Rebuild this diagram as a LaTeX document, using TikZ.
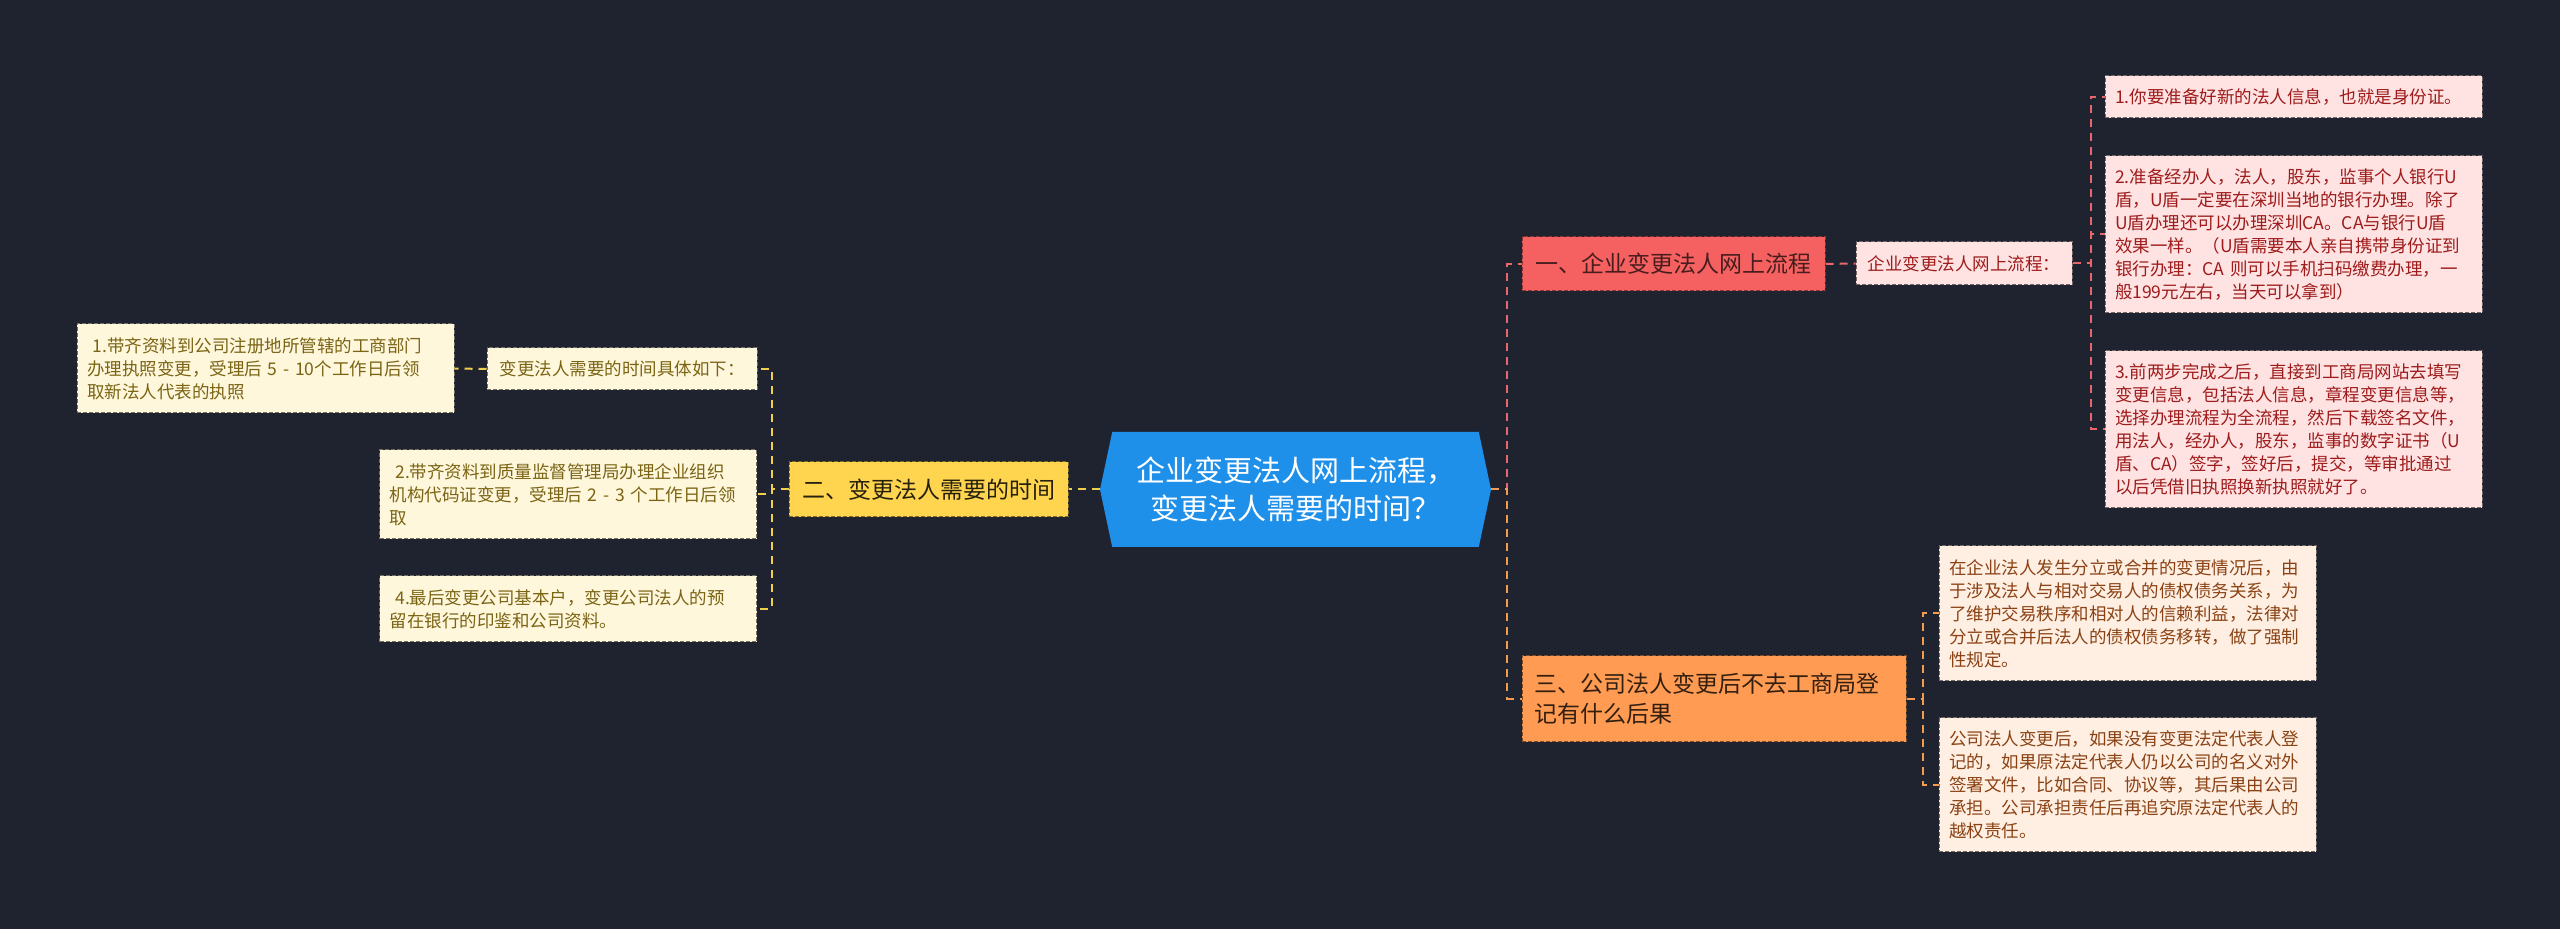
\documentclass[tikz,border=0pt]{standalone}
\usepackage{fontspec}
\setmainfont{Noto Sans CJK SC}
\usepackage{tikz}
\usetikzlibrary{shapes.symbols}

\definecolor{bgnavy}{HTML}{1F2330}
\definecolor{hubblue}{HTML}{1E90EA}
\definecolor{redfill}{HTML}{F56161}
\definecolor{redleaf}{HTML}{FFE3E3}
\definecolor{redtext}{HTML}{9E1B1B}
\definecolor{redline}{HTML}{E8676A}
\definecolor{orangefill}{HTML}{FF9B52}
\definecolor{orangeleaf}{HTML}{FFEEE2}
\definecolor{orangetext}{HTML}{8A4214}
\definecolor{orangeline}{HTML}{F39C50}
\definecolor{yellowfill}{HTML}{FFD54F}
\definecolor{yellowleaf}{HTML}{FFF7DC}
\definecolor{yellowtext}{HTML}{7A6414}
\definecolor{yellowline}{HTML}{F2CF4A}

\begin{document}
\begin{tikzpicture}[x=0.5pt, y=-0.5pt,
    every node/.style={inner ysep=0pt},
    box/.style={draw, dash pattern=on 2pt off 1pt, line width=0.5pt},
    leaf/.style={box, align=left, inner xsep=5pt, text width=178.5pt,
      font=\fontsize{8.75}{11.5}\selectfont},
    sub/.style={box, align=center, inner xsep=0pt,
      font=\fontsize{8.75}{11.5}\selectfont},
    branch/.style={box, inner xsep=6pt, font=\fontsize{11.5}{15}\selectfont},
    link/.style={line width=1pt, dash pattern=on 4pt off 3pt}]
	\fill[bgnavy] (0,0) rectangle (2560,929);
	\useasboundingbox (0,0) rectangle (2560,929);
	% centre
	\node[signal, signal to=east and west, signal pointer angle=156, fill=hubblue,
	  text=white, align=center, minimum width=195.5pt, minimum height=57.5pt,
	  font=\fontsize{14.5}{19}\selectfont] (hub) at (1295.5,489.5)
	  {企业变更法人网上流程，\\变更法人需要的时间？};
	% branch one
	\node[branch, fill=redfill, draw=redfill!55!black, text=redfill!30!black,
	  minimum width=151.5pt, minimum height=27pt] (b1) at (1673.5,264) {一、企业变更法人网上流程};
	\node[sub, fill=redleaf, draw=redleaf!45!black, text=redtext,
	  minimum width=108pt, minimum height=21.5pt] (s1) at (1964,263.5) {企业变更法人网上流程：};
	\node[leaf, fill=redleaf, draw=redleaf!45!black, text=redtext,
	  minimum height=21pt] (r1) at (2293.5,97) {1.你要准备好新的法人信息，也就是身份证。};
	\node[leaf, fill=redleaf, draw=redleaf!45!black, text=redtext,
	  minimum height=78.5pt] (r2) at (2293.5,234.5)
	  {2.准备经办人，法人，股东，监事个人银行U\\盾，U盾一定要在深圳当地的银行办理。除了\\U盾办理还可以办理深圳CA。CA与银行U盾\\效果一样。（U盾需要本人亲自携带身份证到\\银行办理：CA 则可以手机扫码缴费办理，一\\般199元左右，当天可以拿到）};
	\node[leaf, fill=redleaf, draw=redleaf!45!black, text=redtext,
	  minimum height=78.5pt] (r3) at (2293.5,429.5)
	  {3.前两步完成之后，直接到工商局网站去填写\\变更信息，包括法人信息，章程变更信息等，\\选择办理流程为全流程，然后下载签名文件，\\用法人，经办人，股东，监事的数字证书（U\\盾、CA）签字，签好后，提交，等审批通过\\以后凭借旧执照换新执照就好了。};
	% branch two
	\node[branch, fill=yellowfill, draw=yellowfill!50!black, text=yellowfill!15!black,
	  minimum width=139.5pt, minimum height=27.5pt] (b2) at (928.5,489.5) {二、变更法人需要的时间};
	\node[sub, fill=yellowleaf, draw=yellowleaf!45!black, text=yellowtext,
	  minimum width=135pt, minimum height=21pt] (s2) at (622,369) {变更法人需要的时间具体如下：};
	\node[leaf, fill=yellowleaf, draw=yellowleaf!45!black, text=yellowtext,
	  minimum height=44.5pt] (y1) at (265.5,368.5)
	  {\ 1.带齐资料到公司注册地所管辖的工商部门\\办理执照变更，受理后 5 - 10个工作日后领\\取新法人代表的执照};
	\node[leaf, fill=yellowleaf, draw=yellowleaf!45!black, text=yellowtext,
	  minimum height=44.5pt] (y2) at (568,494.5)
	  {\ 2.带齐资料到质量监督管理局办理企业组织\\机构代码证变更，受理后 2 - 3 个工作日后领\\取};
	\node[leaf, fill=yellowleaf, draw=yellowleaf!45!black, text=yellowtext,
	  minimum height=33pt] (y4) at (568,609)
	  {\ 4.最后变更公司基本户，变更公司法人的预\\留在银行的印鉴和公司资料。};
	% branch three
	\node[branch, fill=orangefill, draw=orangefill!50!black, text=orangefill!20!black,
	  align=left, text width=180pt, minimum height=43pt] (b3) at (1714,699)
	  {三、公司法人变更后不去工商局登\\记有什么后果};
	\node[leaf, fill=orangeleaf, draw=orangeleaf!45!black, text=orangetext,
	  minimum height=67.5pt] (o1) at (2127.5,613.5)
	  {在企业法人发生分立或合并的变更情况后，由\\于涉及法人与相对交易人的债权债务关系，为\\了维护交易秩序和相对人的信赖利益，法律对\\分立或合并后法人的债权债务移转，做了强制\\性规定。};
	\node[leaf, fill=orangeleaf, draw=orangeleaf!45!black, text=orangetext,
	  minimum height=67pt] (o2) at (2127.5,785)
	  {公司法人变更后，如果没有变更法定代表人登\\记的，如果原法定代表人仍以公司的名义对外\\签署文件，比如合同、协议等，其后果由公司\\承担。公司承担责任后再追究原法定代表人的\\越权责任。};
	% connectors
	\draw[link, yellowline] (hub.west) -- (b2.east);
	\draw[link, yellowline] (b2.west) -- ++(-17,0) |- (s2.east);
	\draw[link, yellowline] (b2.west) -- ++(-17,0) |- (y2.east);
	\draw[link, yellowline] (b2.west) -- ++(-17,0) |- (y4.east);
	\draw[link, yellowline] (s2.west) -- (y1.east);
	\draw[link, redline] (hub.east) -- ++(16,0) |- (b1.west);
	\draw[link, orangeline] (hub.east) -- ++(16,0) |- (b3.west);
	\draw[link, redline] (b1.east) -- (s1.west);
	\draw[link, redline] (s1.east) -- ++(18,0) |- (r1.west);
	\draw[link, redline] (s1.east) -- ++(18,0) |- (r2.west);
	\draw[link, redline] (s1.east) -- ++(18,0) |- (r3.west);
	\draw[link, orangeline] (b3.east) -- ++(16,0) |- (o1.west);
	\draw[link, orangeline] (b3.east) -- ++(16,0) |- (o2.west);
\end{tikzpicture}
\end{document}
